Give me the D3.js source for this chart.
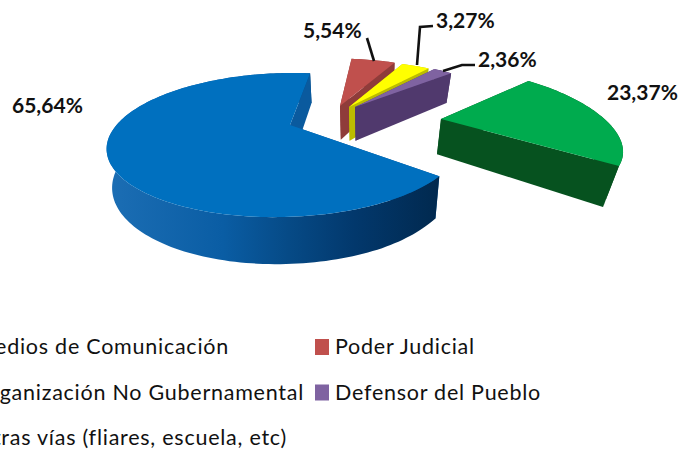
<!DOCTYPE html>
<html>
<head>
<meta charset="utf-8">
<script src="https://cdn.jsdelivr.net/npm/d3@7"></script>
<style>
  html, body { margin: 0; background: #fff; overflow: hidden; }
  text { font-family: Lato, "Open Sans", sans-serif; fill: #111; }
</style>
</head>
<body>
<script>
// clockwise from the top of the pie
var categories = ['Poder Judicial', 'Otras vías (fliares, escuela, etc)', 'Defensor del Pueblo', 'Organización No Gubernamental', 'Medios de Comunicación'];
var values = [5.54, 3.27, 2.36, 23.37, 65.64];
var valueLabels = ['5,54%', '3,27%', '2,36%', '23,37%', '65,64%'];

// legend reading order
var legendLeft = ['Medios de Comunicación', 'Organización No Gubernamental', 'Otras vías (fliares, escuela, etc)'];
var legendRight = ['Poder Judicial', 'Defensor del Pueblo'];

var topColors = ['#c0504d', '#ffff00', '#7f63a1', '#00ab4e', '#0070bf'];
var wallColors = ['#8f3c3a', '#bcbc00', '#50396d', '#06521f', 'url(#blueWall)'];
var cutColors = ['#8f3c3a', '#bcbc00', '#50396d', '#06521f', '#0a5a9e'];

// every slice has its own apex and perspective, the picture is not a true projection
var sliceViews = [
  {ax: 340, ay: 106, rx: 153, ry: 57.5, k: 0.214, m: 0, sh: 2, flat: 0},
  {ax: 349, ay: 107, rx: 163, ry: 57, k: 0.214, m: 0, sh: 8.4, flat: 0},
  {ax: 355, ay: 107, rx: 156, ry: 56, k: 0.214, m: 0, sh: 3, flat: 0},
  {ax: 441, ay: 119, rx: 172, ry: 63, k: 0.214, m: 0, sh: 34, flat: 0.05},
  {ax: 290, ay: 125, rx: 170, ry: 66.5, k: 0.278, m: 0.02, sh: -8, flat: 0}
];

var labelPlaces = [[303, 38], [436, 28], [478, 67], [607, 100], [12, 113]];
var leaders = [
  [[367, 38], [374, 61]],
  [[417, 65], [420, 27], [433, 26]],
  [[443, 71], [462, 65], [475, 65]],
  [],
  []
];

var width = 686, height = 449;
var svg = d3.select('body').append('svg')
  .attr('width', width)
  .attr('height', height);

var grad = svg.append('defs').append('linearGradient')
  .attr('id', 'blueWall')
  .attr('gradientUnits', 'userSpaceOnUse')
  .attr('x1', 107).attr('x2', 438).attr('y1', 0).attr('y2', 0);
[[0, '#1c6eb4'], [0.35, '#0a5da4'], [0.55, '#064a86'], [0.75, '#02386c'], [1, '#01294f']].forEach(function (s) {
  grad.append('stop').attr('offset', s[0]).attr('stop-color', s[1]);
});

var pie = d3.pie().sort(null).startAngle(6 * Math.PI / 180).endAngle(366 * Math.PI / 180);
var slices = pie(values);

// plane (u, v) to screen
function project(view, u, v) {
  var den = 1 - view.k * v + view.m * u;
  return [view.ax + (view.rx * u + view.sh * v) / den, view.ay + view.ry * v / den];
}

// bottom face under a point of the top face
function drop(p) {
  var depth = 30 + (p[1] - 75) * 0.12;
  var pull = p[0] < 382 ? 0.02 : 0.0675;
  return [p[0] + (382 - p[0]) * pull, p[1] + depth];
}

var line = d3.line().curve(d3.curveLinear);

function cutWall(g, a, b, color) {
  g.append('path')
    .attr('d', line([a, b, drop(b), drop(a)]) + 'Z')
    .attr('fill', color);
}

slices.forEach(function (d, i) {
  var view = sliceViews[i];
  var apex = project(view, 0, 0);
  var steps = Math.max(6, Math.round((d.endAngle - d.startAngle) * 40));
  var arcPts = d3.range(steps + 1).map(function (j) {
    var t = j / steps;
    var a = d.startAngle + (d.endAngle - d.startAngle) * t;
    var r = 1 - view.flat * Math.sin(Math.PI * t);
    return project(view, r * Math.sin(a), -r * Math.cos(a));
  });
  var g = svg.append('g');

  // back cut, round wall, front cut, then the top face over all of it
  cutWall(g, apex, arcPts[0], cutColors[i]);
  g.append('path')
    .attr('d', line(arcPts.concat(arcPts.map(drop).reverse())) + 'Z')
    .attr('fill', wallColors[i]);
  cutWall(g, apex, arcPts[arcPts.length - 1], cutColors[i]);
  g.append('path')
    .attr('d', line([apex].concat(arcPts)) + 'Z')
    .attr('fill', topColors[i]);
});

// leader lines
leaders.forEach(function (pts) {
  if (!pts.length) return;
  svg.append('path')
    .attr('d', line(pts))
    .attr('fill', 'none')
    .attr('stroke', '#111')
    .attr('stroke-width', 2.6);
});

// value labels
valueLabels.forEach(function (t, i) {
  svg.append('text')
    .attr('x', labelPlaces[i][0])
    .attr('y', labelPlaces[i][1])
    .attr('font-size', 21)
    .attr('font-weight', 700)
    .text(t);
});

// legend
var rowY = d3.scalePoint().domain(d3.range(3)).range([354, 445]);

legendLeft.forEach(function (t, i) {
  var rights = [229, 304, 287];
  svg.append('text')
    .attr('x', rights[i])
    .attr('y', rowY(i))
    .attr('text-anchor', 'end')
    .attr('font-size', 21.5)
    .attr('letter-spacing', 0.75)
    .text(t);
});

legendRight.forEach(function (t, i) {
  var c = categories.indexOf(t);
  svg.append('rect')
    .attr('x', 315)
    .attr('y', rowY(i) - 15)
    .attr('width', 14)
    .attr('height', 16)
    .attr('fill', topColors[c]);
  svg.append('text')
    .attr('x', 335)
    .attr('y', rowY(i))
    .attr('font-size', 21.5)
    .attr('letter-spacing', 0.75)
    .text(t);
});
</script>
</body>
</html>
